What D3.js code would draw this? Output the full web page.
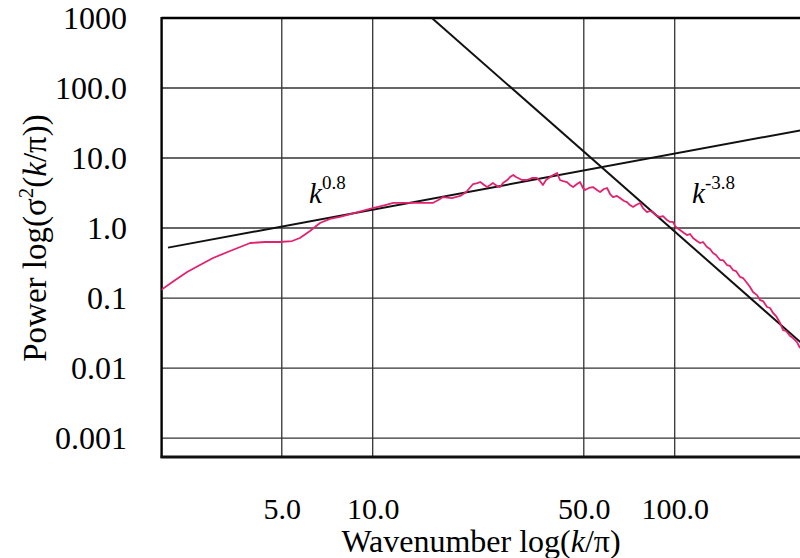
<!DOCTYPE html>
<html>
<head>
<meta charset="utf-8">
<script src="https://cdn.jsdelivr.net/npm/d3@7/dist/d3.min.js"></script>
<style>
  html, body { margin: 0; padding: 0; background: #fff; overflow: hidden; }
  svg { display: block; }
  text { font-family: "Liberation Serif", "Times New Roman", serif; fill: #000; }
</style>
</head>
<body>
<svg id="chart" width="800" height="558"></svg>
<script>
// Measured power spectrum: wavenumber k/π and power σ²(k/π)
const wavenumber = [
  1.99, 2.22, 2.43, 2.68, 2.96, 3.37, 3.93, 4.40, 4.93, 5.41, 5.74, 6.20, 6.69, 7.22, 7.79, 8.74,
  10.0, 11.0, 11.7, 12.8, 14.3, 15.8, 16.5, 17.1, 18.3, 19.5, 20.4, 21.5, 22.2, 22.7, 23.4, 23.9,
  24.5, 25.0, 25.8, 26.4, 27.0, 27.9, 28.5, 29.2, 29.8, 30.3, 31.2, 32.4, 33.7, 35.0, 35.8, 36.6,
  37.5, 38.7, 39.6, 40.8, 41.7, 42.7, 44.0, 45.0, 46.1, 47.5, 48.6, 49.7, 50.5, 52.0, 53.6, 55.3,
  56.6, 58.3, 59.7, 61.1, 62.5, 64.4, 65.9, 68.0, 69.5, 71.1, 72.8, 74.5, 76.8, 78.5, 81.0, 82.8,
  84.8, 87.4, 89.4, 91.5, 94.3, 96.5, 98.7, 100.2, 101.8, 104.1, 107.4, 109.8, 112.4, 115.0, 118.5, 121.3,
  124.1, 127.9, 130.9, 133.9, 137.0, 141.3, 144.5, 149.0, 152.5, 156.0, 159.6, 164.6, 168.4, 173.6, 177.6, 181.7,
  187.3, 191.7, 196.1, 202.2, 206.9, 211.7, 216.6, 223.3, 228.5, 233.7, 240.9, 246.5, 254.1, 260.0
];
const power = [
  0.130, 0.181, 0.235, 0.296, 0.373, 0.469, 0.611, 0.631, 0.631, 0.652, 0.720, 0.906, 1.18, 1.35, 1.44, 1.64,
  1.93, 2.13, 2.28, 2.28, 2.28, 2.28, 2.51, 2.77, 2.68, 2.87, 3.27, 4.25, 4.39, 4.54, 4.12, 3.85,
  4.12, 4.39, 3.98, 3.85, 4.39, 4.85, 5.35, 5.72, 5.35, 5.18, 4.85, 4.85, 5.18, 5.18, 4.69, 4.12,
  4.85, 5.35, 5.72, 6.11, 4.85, 4.69, 4.54, 4.12, 3.85, 4.25, 4.54, 3.73, 3.49, 3.73, 3.85, 3.49,
  3.27, 3.61, 3.73, 3.06, 2.77, 2.87, 2.68, 2.43, 2.35, 2.13, 2.00, 2.13, 2.28, 1.93, 1.69, 1.75,
  1.69, 1.48, 1.44, 1.48, 1.30, 1.22, 1.22, 1.07, 1.00, 0.936, 0.848, 0.794, 0.821, 0.720, 0.652, 0.611,
  0.631, 0.535, 0.501, 0.439, 0.411, 0.349, 0.349, 0.296, 0.287, 0.251, 0.243, 0.200, 0.193, 0.164, 0.144, 0.122,
  0.110, 0.0936, 0.0906, 0.0744, 0.0720, 0.0611, 0.0553, 0.0439, 0.0349, 0.0338, 0.0287, 0.0268, 0.0235, 0.0193
];

// Power-law guide lines (end points)
const lowFitK = [2.1, 300];
const lowFitP = [0.525, 27.8];      // ~ k^0.8
const highFitK = [15.7, 300];
const highFitP = [1000, 0.0138];    // ~ k^-3.8

// Axis ticks and labels
const xTicks = [5, 10, 50, 100];
const xTickLabels = ["5.0", "10.0", "50.0", "100.0"];
const xGrid = [5, 10, 50, 100, 500];
const yTicks = [1000, 100, 10, 1, 0.1, 0.01, 0.001];
const yTickLabels = ["1000", "100.0", "10.0", "1.0", "0.1", "0.01", "0.001"];

const svg = d3.select("#chart");
const plot = { left: 161.6, top: 18, bottom: 457, right: 818.8 };

const x = d3.scaleLog().domain([2, 300]).range([plot.left, plot.right]);
const y = d3.scaleLog().domain([0.000536, 1000]).range([plot.bottom, plot.top]);

svg.append("defs").append("clipPath").attr("id", "plotClip")
  .append("rect")
  .attr("x", plot.left).attr("y", plot.top)
  .attr("width", plot.right - plot.left).attr("height", plot.bottom - plot.top);

// Grid lines
const grid = svg.append("g").attr("clip-path", "url(#plotClip)");
grid.selectAll("line.v").data(xGrid).join("line")
  .attr("class", "v")
  .attr("x1", d => x(d)).attr("x2", d => x(d))
  .attr("y1", plot.top).attr("y2", plot.bottom)
  .attr("stroke", "#333").attr("stroke-width", 1.3);
grid.selectAll("line.h").data(yTicks.filter(d => d < 1000)).join("line")
  .attr("class", "h")
  .attr("x1", plot.left).attr("x2", plot.right)
  .attr("y1", d => y(d)).attr("y2", d => y(d))
  .attr("stroke", "#333").attr("stroke-width", 1.3);

// Frame: top, left, bottom
svg.append("line").attr("x1", plot.left).attr("x2", plot.right)
  .attr("y1", y(1000)).attr("y2", y(1000)).attr("stroke", "#000").attr("stroke-width", 2.4);
svg.append("line").attr("x1", plot.left).attr("x2", plot.left)
  .attr("y1", plot.top - 1).attr("y2", plot.bottom + 1).attr("stroke", "#000").attr("stroke-width", 2.4);
svg.append("line").attr("x1", plot.left - 1).attr("x2", plot.right)
  .attr("y1", plot.bottom).attr("y2", plot.bottom).attr("stroke", "#111").attr("stroke-width", 2.8);

const lineGen = d3.line().x(d => x(d[0])).y(d => y(d[1]));
const marks = svg.append("g").attr("clip-path", "url(#plotClip)");

// Fitted power laws
marks.append("path").datum(d3.zip(lowFitK, lowFitP))
  .attr("d", lineGen).attr("fill", "none").attr("stroke", "#111").attr("stroke-width", 2);
marks.append("path").datum(d3.zip(highFitK, highFitP))
  .attr("d", lineGen).attr("fill", "none").attr("stroke", "#111").attr("stroke-width", 2);

// Spectrum
marks.append("path").datum(d3.zip(wavenumber, power))
  .attr("d", lineGen).attr("fill", "none").attr("stroke", "#e2226f")
  .attr("stroke-width", 1.8).attr("stroke-linejoin", "round");

// Y axis labels
const yAxis = d3.axisLeft(y).tickValues(yTicks).tickSize(0).tickPadding(0)
  .tickFormat((d, i) => yTickLabels[i]);
const gy = svg.append("g").attr("transform", "translate(127,0)").call(yAxis);
gy.select(".domain").remove();
gy.selectAll("text").attr("font-size", 32).attr("font-family", "Liberation Serif").attr("fill", "#000");

// X axis labels
const xAxis = d3.axisBottom(x).tickValues(xTicks).tickSize(0).tickPadding(0)
  .tickFormat((d, i) => xTickLabels[i]);
const gx = svg.append("g").attr("transform", "translate(0,519)").call(xAxis);
gx.select(".domain").remove();
gx.selectAll("text").attr("font-size", 30).attr("font-family", "Liberation Serif")
  .attr("fill", "#000").attr("dy", 0);

// Axis titles
const xt = svg.append("text").attr("x", 481).attr("y", 552).attr("text-anchor", "middle")
  .attr("font-size", 32);
xt.append("tspan").text("Wavenumber log(");
xt.append("tspan").attr("font-style", "italic").text("k");
xt.append("tspan").text("/π)");

const yt = svg.append("text").attr("transform", "translate(46,238) rotate(-90)")
  .attr("text-anchor", "middle").attr("font-size", 33);
yt.append("tspan").text("Power log(σ");
yt.append("tspan").attr("font-size", 21).attr("dy", -13).text("2");
yt.append("tspan").attr("dy", 13).text("(");
yt.append("tspan").attr("font-style", "italic").text("k");
yt.append("tspan").text("/π))");

// Slope annotations
function slopeLabel(px, py, exponent) {
  const t = svg.append("text").attr("x", px).attr("y", py).attr("font-size", 29);
  t.append("tspan").attr("font-style", "italic").text("k");
  t.append("tspan").attr("font-size", 19).attr("dy", -14).text(exponent);
}
slopeLabel(309, 203, "0.8");
slopeLabel(692, 203, "-3.8");
</script>
</body>
</html>
